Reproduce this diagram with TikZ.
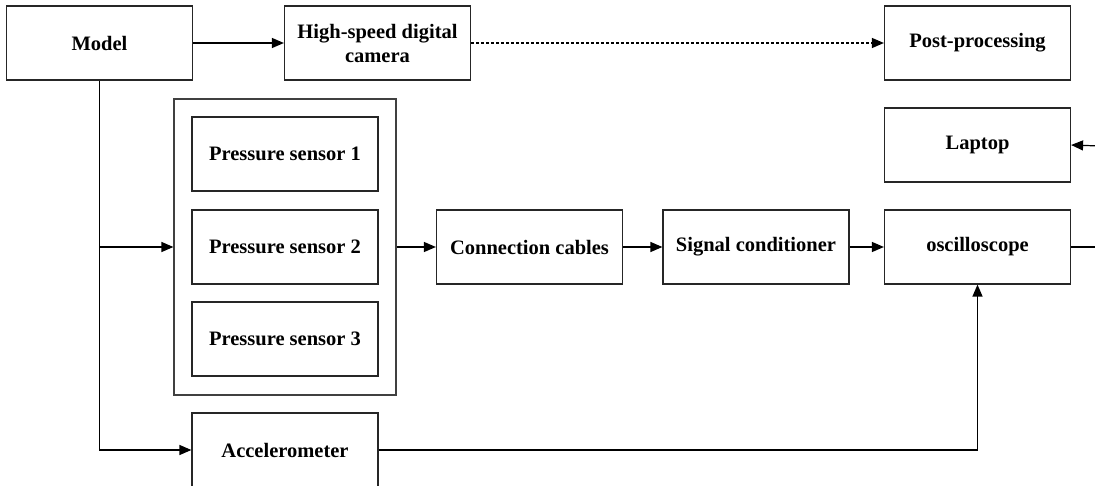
\documentclass[tikz,border=0pt]{standalone}
\usepackage{fontspec}
\setmainfont{Liberation Serif}
\usetikzlibrary{arrows.meta}
\begin{document}
\begin{tikzpicture}[x=1pt,y=-1pt,
  box/.style={draw=black!85, line width=1.2pt, minimum width=186pt, minimum height=74pt, inner sep=0pt, align=center, font=\fontsize{20.5}{24}\selectfont\bfseries},
  conn/.style={line width=1.2pt, -{Triangle[length=12pt,width=10pt]}},
  plain/.style={line width=1.2pt}]
\useasboundingbox (0,0) rectangle (1095,486);
\clip (0,0) rectangle (1095,486);
\fill[white] (0,0) rectangle (1095,486);
\node[box] (model) at (99.5,43) {Model};
\node[box] (cam) at (377.5,43) {High-speed digital\\camera};
\node[box] (post) at (977.5,43) {Post-processing};
\node[box] (laptop) at (977.5,145) {Laptop};
\node[box, minimum width=222pt, minimum height=296pt, draw=black!75] (outer) at (285,247) {};
\node[box] (ps1) at (285,154) {Pressure sensor 1};
\node[box] (ps2) at (285,247) {Pressure sensor 2};
\node[box] (ps3) at (285,339) {Pressure sensor 3};
\node[box] (cables) at (529.5,247) {Connection cables};
\node[box] (signal) at (756,247) {Signal conditioner};
\node[box] (osc) at (977.5,247) {oscilloscope};
\node[box] (accel) at (285,450) {Accelerometer};
\coordinate (lapin) at (1100,146);
\coordinate (oscout) at (1100,247);
\draw[conn] (model) -- (cam);
\draw[conn, dashed, dash pattern=on 3pt off 2pt] (cam) -- (post);
\draw[conn] (model.south) -- (model.south |- accel.west) -- (accel.west);
\draw[conn] (model.south |- outer.west) -- (outer.west);
\draw[conn] (outer.east) -- (cables.west);
\draw[conn] (cables) -- (signal);
\draw[conn] (signal) -- (osc);
\draw[conn] (accel.east) -| (osc.south);
\draw[conn] (lapin) -- (laptop.east);
\draw[plain] (osc.east) -- (oscout);
\end{tikzpicture}
\end{document}
